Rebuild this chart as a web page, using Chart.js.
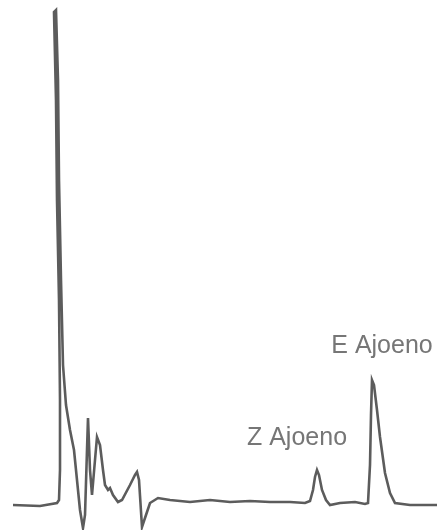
<!DOCTYPE html>
<html>
<head>
<meta charset="utf-8">
<script src="https://cdn.jsdelivr.net/npm/chart.js@4.4.1/dist/chart.umd.min.js"></script>
<style>
  html, body { margin: 0; padding: 0; background: #fff; }
  #wrap { width: 437px; height: 530px; }
</style>
</head>
<body>
<div id="wrap"><canvas id="chromChart" width="437" height="530"></canvas></div>
<script>
// trace (x = time axis, y = detector signal, baseline = 0)
const retentionTime = [13, 40, 57, 59, 60, 60, 59, 57, 56, 54, 56, 58, 59, 61, 63, 66, 70, 74, 78, 80, 83, 85, 87, 88, 90, 92, 95, 97, 100, 103, 105, 108, 110, 113, 118, 122, 130, 135, 137, 139, 142, 146, 150, 158, 170, 190, 210, 230, 250, 270, 290, 305, 310, 313, 315, 317, 319, 322, 326, 330, 340, 355, 365, 368, 370, 371, 372, 374, 377, 380, 385, 390, 395, 410, 437];
const response = [0, -1, 2, 5, 35, 105, 205, 305, 405, 493, 495, 425, 325, 225, 140, 100, 75, 55, 15, -5, -23, -10, 55, 87, 35, 10, 45, 68, 60, 35, 20, 15, 17, 10, 3, 5, 20, 30, 33, 25, -22, -10, 2, 7, 5, 3, 5, 3, 4, 3, 3, 2, 4, 15, 28, 35, 30, 15, 5, 0, 2, 3, 1, 2, 40, 90, 125, 120, 95, 68, 32, 12, 2, 0, 0];

const peakLabels = ['Z Ajoeno', 'E Ajoeno'];
const labelTime = [297, 382];
const labelResponse = [67, 159];

const points = retentionTime.map((t, i) => ({ x: t, y: response[i] }));

const peakLabelPlugin = {
    id: 'peakLabels',
    afterDatasetsDraw(chart) {
        const ctx = chart.ctx;
        const xs = chart.scales.x;
        const ys = chart.scales.y;
        ctx.save();
        ctx.font = '25px "Liberation Sans", Arial, sans-serif';
        ctx.fillStyle = '#767676';
        ctx.textAlign = 'center';
        ctx.textBaseline = 'middle';
        peakLabels.forEach((txt, i) => {
            ctx.fillText(txt, xs.getPixelForValue(labelTime[i]), ys.getPixelForValue(labelResponse[i]));
        });
        ctx.restore();
    }
};

new Chart(document.getElementById('chromChart').getContext('2d'), {
    type: 'line',
    data: {
        datasets: [{
            data: points,
            borderColor: '#5c5c5c',
            borderWidth: 2.6,
            pointRadius: 0,
            fill: false,
            tension: 0
        }]
    },
    options: {
        responsive: false,
        animation: false,
        layout: { padding: 0 },
        plugins: { legend: { display: false }, tooltip: { enabled: false } },
        scales: {
            x: { type: 'linear', min: 0, max: 437, display: false },
            y: { min: -25, max: 505, display: false }
        }
    },
    plugins: [peakLabelPlugin]
});
</script>
</body>
</html>
